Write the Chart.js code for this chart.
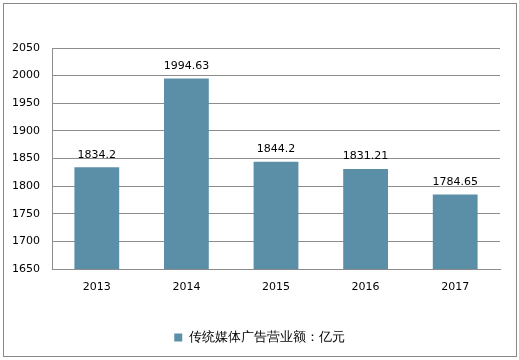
<!DOCTYPE html>
<html>
<head>
<meta charset="utf-8">
<script src="https://cdn.jsdelivr.net/npm/chart.js@4.4.0/dist/chart.umd.min.js"></script>
<style>
  html, body { margin: 0; padding: 0; background: #fff; }
  #wrap { width: 519px; height: 360px; }
</style>
</head>
<body>
<div id="wrap"><canvas id="chart" width="519" height="360"></canvas></div>
<script>
// data
const years = ["2013", "2014", "2015", "2016", "2017"];
const revenue = [1834.2, 1994.63, 1844.2, 1831.21, 1784.65];
const yTicks = [1650, 1700, 1750, 1800, 1850, 1900, 1950, 2000, 2050];
const seriesName = "传统媒体广告营业额：亿元";

const barColor = "#5b8fa8";
const gridColor = "#8c8c8c";
const font = "'DejaVu Sans', Verdana, sans-serif";

// outer frame
const framePlugin = {
  id: "frame",
  beforeDraw(chart) {
    const ctx = chart.ctx;
    ctx.save();
    ctx.fillStyle = "#fff";
    ctx.fillRect(0, 0, chart.width, chart.height);
    ctx.strokeStyle = "#8a8a8a";
    ctx.lineWidth = 1;
    ctx.strokeRect(3.5, 3.5, 513, 353);
    ctx.restore();
  }
};

// value labels above bars
const valueLabels = {
  id: "valueLabels",
  afterDatasetsDraw(chart) {
    const ctx = chart.ctx;
    const meta = chart.getDatasetMeta(0);
    ctx.save();
    ctx.font = "11px " + font;
    ctx.fillStyle = "#000";
    ctx.textAlign = "center";
    ctx.textBaseline = "bottom";
    meta.data.forEach((bar, i) => {
      ctx.fillText(String(revenue[i]), bar.x, bar.y - 7);
    });
    ctx.restore();
  }
};

new Chart(document.getElementById("chart"), {
  type: "bar",
  data: {
    labels: years,
    datasets: [{
      label: seriesName,
      data: revenue,
      backgroundColor: barColor,
      barPercentage: 0.5,
      categoryPercentage: 1
    }]
  },
  options: {
    responsive: false,
    animation: false,
    layout: { padding: { left: 0, right: 0, top: 48, bottom: 6 } },
    plugins: {
      tooltip: { enabled: false },
      legend: {
        position: "bottom",
        labels: {
          font: { family: font, size: 13 },
          color: "#000",
          boxWidth: 8,
          boxHeight: 8,
          padding: 10
        }
      }
    },
    scales: {
      x: {
        grid: { display: false, drawTicks: false },
        border: { display: true, color: gridColor },
        ticks: { font: { family: font, size: 11 }, color: "#000", padding: 12 },
        afterFit(scale) { scale.height = 52; }
      },
      y: {
        min: 1650,
        max: 2050,
        afterBuildTicks(scale) { scale.ticks = yTicks.map(v => ({ value: v })); },
        grid: { color: gridColor, drawTicks: false },
        border: { display: true, color: gridColor },
        ticks: {
          font: { family: font, size: 11 },
          color: "#000",
          padding: 12,
          callback: (v) => String(v)
        },
        afterFit(scale) { scale.width = 52; }
      },
      // empty right margin so the legend centres on the whole frame
      y2: {
        position: "right",
        display: true,
        grid: { display: false, drawTicks: false },
        border: { display: false },
        ticks: { display: false },
        afterFit(scale) { scale.width = 19; }
      }
    }
  },
  plugins: [framePlugin, valueLabels]
});
</script>
</body>
</html>
